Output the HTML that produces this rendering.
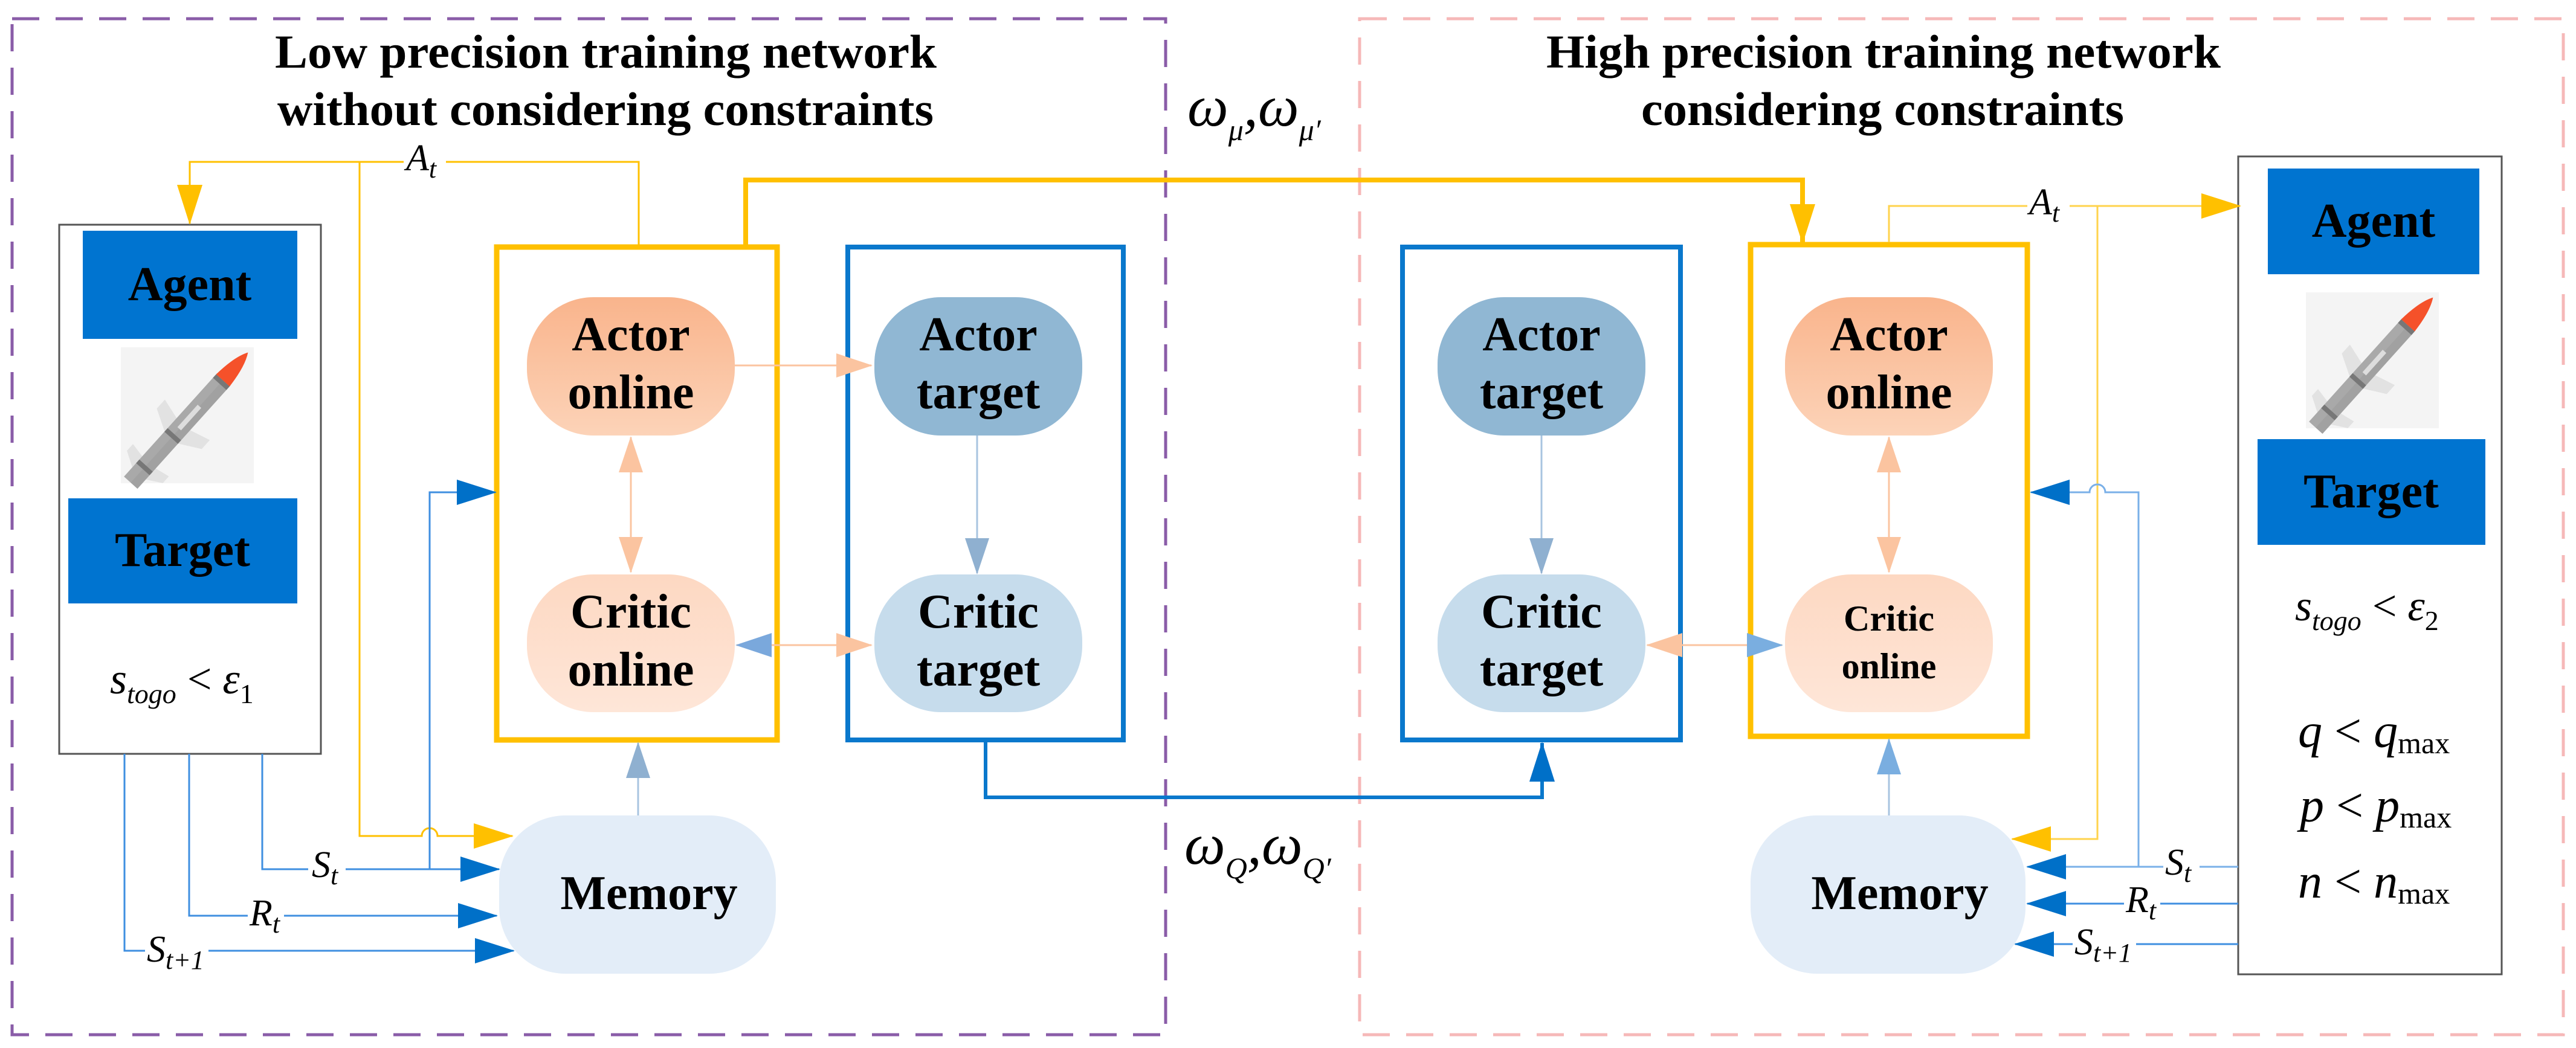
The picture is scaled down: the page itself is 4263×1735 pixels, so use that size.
<!DOCTYPE html>
<html><head><meta charset="utf-8"><style>
html,body{margin:0;padding:0;background:#fff;}
svg{display:block;}
.t{font-family:"Liberation Serif","Times New Roman","DejaVu Serif",serif;font-weight:bold;fill:#000;}
.m{font-family:"Liberation Serif","Times New Roman","DejaVu Serif",serif;font-style:italic;fill:#000;}
.r{font-family:"Liberation Serif","Times New Roman","DejaVu Serif",serif;fill:#000;}
</style></head><body>
<svg width="4263" height="1735" viewBox="0 0 4263 1735" xmlns="http://www.w3.org/2000/svg">
<defs>
<linearGradient id="go" x1="0" y1="0" x2="0" y2="1"><stop offset="0" stop-color="#f9b48c"/><stop offset="1" stop-color="#fcd3b8"/></linearGradient>
<linearGradient id="gc" x1="0" y1="0" x2="0" y2="1"><stop offset="0" stop-color="#fdd8c2"/><stop offset="1" stop-color="#fee6d8"/></linearGradient>
<g id="missile">
<rect x="0" y="0" width="220" height="225" fill="#f4f4f4"/>
<g transform="translate(110,120) rotate(-48)">
<path d="M-40,-14 L-20,-50 L0,-50 L-10,-14z" fill="#e2e2e2"/>
<path d="M-40,14 L-20,50 L0,50 L-10,14z" fill="#e2e2e2"/>
<path d="M-120,-14 L-105,-40 L-90,-40 L-95,-14z" fill="#e2e2e2"/>
<path d="M-120,14 L-105,40 L-90,40 L-95,14z" fill="#e2e2e2"/>
<rect x="-140" y="-15" width="230" height="30" fill="#a9a9a9"/>
<rect x="-140" y="0" width="230" height="15" fill="#9a9a9a" opacity="0.5"/>
<rect x="-40" y="-15" width="8" height="30" fill="#777"/>
<rect x="-110" y="-15" width="8" height="30" fill="#777"/>
<rect x="80" y="-15" width="8" height="30" fill="#777"/>
<rect x="-20" y="-4" width="50" height="8" fill="#ddd"/>
<path d="M88,-15 Q130,-12 150,0 Q130,12 88,15z" fill="#f5512a"/>
</g>
</g>
<marker id="ay" markerWidth="66" markerHeight="42" refX="64" refY="21" orient="auto" markerUnits="userSpaceOnUse"><path d="M0,0 L66,21 L0,42z" fill="#ffc000"/></marker>
<marker id="ab" markerWidth="66" markerHeight="42" refX="64" refY="21" orient="auto" markerUnits="userSpaceOnUse"><path d="M0,0 L66,21 L0,42z" fill="#0070c8"/></marker>
<marker id="ao" markerWidth="60" markerHeight="40" refX="58" refY="20" orient="auto" markerUnits="userSpaceOnUse"><path d="M0,0 L60,20 L0,40z" fill="#fbc4a0"/></marker>
<marker id="ao0" markerWidth="60" markerHeight="40" refX="2" refY="20" orient="auto" markerUnits="userSpaceOnUse"><path d="M60,0 L0,20 L60,40z" fill="#fbc4a0"/></marker>
<marker id="al" markerWidth="60" markerHeight="40" refX="58" refY="20" orient="auto" markerUnits="userSpaceOnUse"><path d="M0,0 L60,20 L0,40z" fill="#8fb0d0"/></marker>
<marker id="al0" markerWidth="60" markerHeight="40" refX="2" refY="20" orient="auto" markerUnits="userSpaceOnUse"><path d="M60,0 L0,20 L60,40z" fill="#7aa8dc"/></marker>
<marker id="alb" markerWidth="60" markerHeight="40" refX="58" refY="20" orient="auto" markerUnits="userSpaceOnUse"><path d="M0,0 L60,20 L0,40z" fill="#7aaee0"/></marker>
</defs>

<rect x="20" y="31" width="1909" height="1682" fill="none" stroke="#8a5ca8" stroke-width="5" stroke-dasharray="45,27"/>
<rect x="2250" y="31" width="1992" height="1682" fill="none" stroke="#f6b8b8" stroke-width="5" stroke-dasharray="45,27"/>

<text class="t" x="455" y="112" font-size="78" textLength="1095" lengthAdjust="spacingAndGlyphs">Low precision training network</text>
<text class="t" x="459" y="207" font-size="78" textLength="1086" lengthAdjust="spacingAndGlyphs">without considering constraints</text>
<text class="t" x="2559" y="112" font-size="78" textLength="1116" lengthAdjust="spacingAndGlyphs">High precision training network</text>
<text class="t" x="2716" y="207" font-size="78" textLength="799" lengthAdjust="spacingAndGlyphs">considering constraints</text>

<rect x="98" y="372" width="433" height="876" fill="#fff" stroke="#555" stroke-width="3"/>
<rect x="137" y="382" width="355" height="179" fill="#0074d0"/>
<text class="t" x="314" y="497" font-size="80" text-anchor="middle">Agent</text>
<use href="#missile" x="200" y="575"/>
<rect x="113" y="825" width="379" height="174" fill="#0074d0"/>
<text class="t" x="302" y="937" font-size="80" text-anchor="middle">Target</text>
<text class="m" x="182" y="1148" font-size="72">s<tspan font-size="46" dy="16">togo</tspan><tspan class="r" font-style="normal" dy="-16"> &lt; </tspan>ε<tspan class="r" font-style="normal" font-size="46" dy="16">1</tspan></text>

<rect x="3704" y="259" width="436" height="1354" fill="#fff" stroke="#555" stroke-width="3"/>
<rect x="3753" y="279" width="350" height="175" fill="#0074d0"/>
<text class="t" x="3928" y="392" font-size="80" text-anchor="middle">Agent</text>
<use href="#missile" x="3816" y="484"/>
<rect x="3736" y="727" width="377" height="175" fill="#0074d0"/>
<text class="t" x="3924" y="840" font-size="80" text-anchor="middle">Target</text>
<text class="m" x="3798" y="1027" font-size="72">s<tspan font-size="46" dy="16">togo</tspan><tspan class="r" font-style="normal" dy="-16"> &lt; </tspan>ε<tspan class="r" font-style="normal" font-size="46" dy="16">2</tspan></text>
<text class="m" x="3803" y="1237" font-size="80">q<tspan class="r" font-style="normal"> &lt; </tspan>q<tspan class="r" font-style="normal" font-size="50" dy="10">max</tspan></text>
<text class="m" x="3806" y="1360" font-size="80">p<tspan class="r" font-style="normal"> &lt; </tspan>p<tspan class="r" font-style="normal" font-size="50" dy="10">max</tspan></text>
<text class="m" x="3803" y="1486" font-size="80">n<tspan class="r" font-style="normal"> &lt; </tspan>n<tspan class="r" font-style="normal" font-size="50" dy="10">max</tspan></text>

<rect x="822" y="409" width="464" height="816" fill="none" stroke="#ffc000" stroke-width="9"/>
<rect x="1403" y="409" width="456" height="816" fill="none" stroke="#0a78cc" stroke-width="8"/>
<rect x="872" y="492" width="344" height="229" rx="110" fill="url(#go)"/>
<text class="t" x="1044" y="580" font-size="80" text-anchor="middle">Actor</text>
<text class="t" x="1044" y="676" font-size="80" text-anchor="middle">online</text>
<rect x="872" y="951" width="344" height="228" rx="110" fill="url(#gc)"/>
<text class="t" x="1044" y="1039" font-size="80" text-anchor="middle">Critic</text>
<text class="t" x="1044" y="1135" font-size="80" text-anchor="middle">online</text>
<rect x="1447" y="492" width="344" height="229" rx="110" fill="#90b7d3"/>
<text class="t" x="1619" y="580" font-size="80" text-anchor="middle">Actor</text>
<text class="t" x="1619" y="676" font-size="80" text-anchor="middle">target</text>
<rect x="1447" y="951" width="344" height="228" rx="110" fill="#c6dcec"/>
<text class="t" x="1619" y="1039" font-size="80" text-anchor="middle">Critic</text>
<text class="t" x="1619" y="1135" font-size="80" text-anchor="middle">target</text>
<rect x="826" y="1350" width="458" height="262" rx="110" fill="#e3edf8"/>
<text class="t" x="1074" y="1505" font-size="80" text-anchor="middle">Memory</text>

<rect x="2321" y="409" width="460" height="816" fill="none" stroke="#0a78cc" stroke-width="8"/>
<rect x="2897" y="405" width="458" height="814" fill="none" stroke="#ffc000" stroke-width="9"/>
<rect x="2379" y="492" width="344" height="229" rx="110" fill="#90b7d3"/>
<text class="t" x="2551" y="580" font-size="80" text-anchor="middle">Actor</text>
<text class="t" x="2551" y="676" font-size="80" text-anchor="middle">target</text>
<rect x="2379" y="951" width="344" height="228" rx="110" fill="#c6dcec"/>
<text class="t" x="2551" y="1039" font-size="80" text-anchor="middle">Critic</text>
<text class="t" x="2551" y="1135" font-size="80" text-anchor="middle">target</text>
<rect x="2954" y="492" width="344" height="229" rx="110" fill="url(#go)"/>
<text class="t" x="3126" y="580" font-size="80" text-anchor="middle">Actor</text>
<text class="t" x="3126" y="676" font-size="80" text-anchor="middle">online</text>
<rect x="2954" y="951" width="344" height="228" rx="110" fill="url(#gc)"/>
<text class="t" x="3126" y="1044" font-size="60" text-anchor="middle">Critic</text>
<text class="t" x="3126" y="1123" font-size="60" text-anchor="middle">online</text>
<rect x="2897" y="1350" width="455" height="262" rx="110" fill="#e3edf8"/>
<text class="t" x="3144" y="1505" font-size="80" text-anchor="middle">Memory</text>

<line x1="1216" y1="605" x2="1442" y2="605" stroke="#fbc4a0" stroke-width="3" marker-end="url(#ao)"/>
<line x1="1044" y1="724" x2="1044" y2="947" stroke="#fbc4a0" stroke-width="3" marker-start="url(#ao0)" marker-end="url(#ao)"/>
<line x1="1617" y1="721" x2="1617" y2="949" stroke="#a8c4e0" stroke-width="3" marker-end="url(#al)"/>
<line x1="1219" y1="1068" x2="1442" y2="1068" stroke="#fbc4a0" stroke-width="3" marker-start="url(#al0)" marker-end="url(#ao)"/>
<line x1="1056" y1="1350" x2="1056" y2="1230" stroke="#a8c4e0" stroke-width="3" marker-end="url(#al)"/>

<line x1="2551" y1="721" x2="2551" y2="949" stroke="#a8c4e0" stroke-width="3" marker-end="url(#al)"/>
<line x1="3126" y1="724" x2="3126" y2="947" stroke="#fbc4a0" stroke-width="3" marker-start="url(#ao0)" marker-end="url(#ao)"/>
<line x1="2726" y1="1068" x2="2949" y2="1068" stroke="#fbc4a0" stroke-width="3" marker-start="url(#ao0)" marker-end="url(#alb)"/>
<line x1="3126" y1="1350" x2="3126" y2="1224" stroke="#a8c4e0" stroke-width="3" marker-end="url(#alb)"/>

<polyline points="1234,405 1234,298 2983,298 2983,402" fill="none" stroke="#ffc000" stroke-width="8" marker-end="url(#ay)"/>
<polyline points="1631,1229 1631,1320 2552,1320 2552,1230" fill="none" stroke="#0a78cc" stroke-width="6" marker-end="url(#ab)"/>
<text class="m" x="1965" y="208" font-size="96">ω<tspan font-size="50" dy="24">μ</tspan><tspan dy="-24">,</tspan>ω<tspan font-size="50" dy="24">μ′</tspan></text>
<text class="m" x="1960" y="1430" font-size="96">ω<tspan font-size="50" dy="24">Q</tspan><tspan dy="-24">,</tspan>ω<tspan font-size="50" dy="24">Q′</tspan></text>

<polyline points="1057,405 1057,268 314,268 314,370" fill="none" stroke="#ffc000" stroke-width="3" marker-end="url(#ay)"/>
<path d="M595,268 L595,1384 L698,1384 A13,13 0 0 1 724,1384 L848,1384" fill="none" stroke="#ffc000" stroke-width="3" marker-end="url(#ay)"/>
<rect x="668" y="240" width="70" height="50" fill="#fff"/>
<text class="m" x="672" y="282" font-size="62">A<tspan font-size="44" dy="12">t</tspan></text>

<polyline points="434,1248 434,1439 826,1439" fill="none" stroke="#3f8fe0" stroke-width="3" marker-end="url(#ab)"/>
<polyline points="711,1439 711,815 820,815" fill="none" stroke="#3f8fe0" stroke-width="3" marker-end="url(#ab)"/>
<polyline points="313,1248 313,1516 822,1516" fill="none" stroke="#3f8fe0" stroke-width="3" marker-end="url(#ab)"/>
<polyline points="206,1248 206,1574 850,1574" fill="none" stroke="#3f8fe0" stroke-width="3" marker-end="url(#ab)"/>
<rect x="510" y="1405" width="62" height="60" fill="#fff"/>
<text class="m" x="516" y="1452" font-size="62">S<tspan font-size="44" dy="12">t</tspan></text>
<rect x="410" y="1480" width="60" height="60" fill="#fff"/>
<text class="m" x="413" y="1532" font-size="62">R<tspan font-size="44" dy="12">t</tspan></text>
<rect x="240" y="1540" width="105" height="60" fill="#fff"/>
<text class="m" x="243" y="1592" font-size="62">S<tspan font-size="44" dy="12">t+1</tspan></text>

<polyline points="3126,401 3126,341 3707,341" fill="none" stroke="#ffd34d" stroke-width="3" marker-end="url(#ay)"/>
<polyline points="3471,341 3471,1389 3330,1389" fill="none" stroke="#ffd34d" stroke-width="3" marker-end="url(#ay)"/>
<rect x="3355" y="312" width="70" height="55" fill="#fff"/>
<text class="m" x="3358" y="355" font-size="62">A<tspan font-size="44" dy="12">t</tspan></text>

<polyline points="3704,1435 3355,1435" fill="none" stroke="#7ab0e8" stroke-width="3" marker-end="url(#ab)"/>
<path d="M3539,1435 L3539,815 L3484,815 A13,13 0 0 0 3458,815 L3361,815" fill="none" stroke="#7ab0e8" stroke-width="3" marker-end="url(#ab)"/>
<polyline points="3704,1496 3355,1496" fill="none" stroke="#3f8fe0" stroke-width="3" marker-end="url(#ab)"/>
<polyline points="3704,1563 3335,1563" fill="none" stroke="#3f8fe0" stroke-width="3" marker-end="url(#ab)"/>
<rect x="3580" y="1400" width="60" height="60" fill="#fff"/>
<text class="m" x="3583" y="1448" font-size="62">S<tspan font-size="44" dy="12">t</tspan></text>
<rect x="3515" y="1460" width="60" height="60" fill="#fff"/>
<text class="m" x="3518" y="1510" font-size="62">R<tspan font-size="44" dy="12">t</tspan></text>
<rect x="3430" y="1530" width="105" height="60" fill="#fff"/>
<text class="m" x="3433" y="1580" font-size="62">S<tspan font-size="44" dy="12">t+1</tspan></text>
</svg>
</body></html>
